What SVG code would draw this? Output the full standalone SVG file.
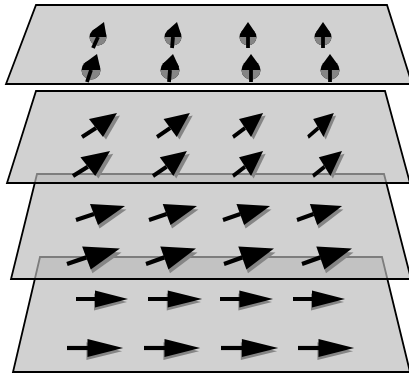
<svg xmlns="http://www.w3.org/2000/svg" xmlns:xlink="http://www.w3.org/1999/xlink" width="409" height="376" viewBox="0 0 409 376">
  <style>
    .plane { fill: #bbbbbb; fill-opacity: 0.67; stroke: #000; stroke-width: 1.8; stroke-linejoin: miter; }
    .sh { fill: #858585; stroke: none; }
    .hd { fill: #000; stroke: none; }
    .st { stroke: #000; stroke-width: 4; fill: none; stroke-linecap: butt; }
    .up circle, .up polygon { fill: #000; }
    .up line { stroke: #000; stroke-width: 3.8; }
  </style>
  <defs>
    <!-- in-plane spin, pointing along x (bottom layer) -->
    <g id="spin-x">
      <polygon class="sh" points="18,-5.5 51,3 18,11.5"/>
      <path class="st" d="M0,0H20"/>
      <polygon class="hd" points="19,-8.5 52,0 19,8.5"/>
    </g>
    <!-- spin tilted slightly up out of the plane -->
    <g id="spin-t1">
      <polygon class="sh" points="15.5,-12.5 50.5,-10.5 23.5,8.5"/>
      <path class="st" d="M0,0L18,-6"/>
      <polygon class="hd" points="14,-16 49,-14 22,5"/>
    </g>
    <!-- spin tilted further out of the plane -->
    <g id="spin-t2">
      <polygon class="sh" points="10,-15.5 38,-21.5 24,2.5"/>
      <path class="st" d="M0,0L14,-9"/>
      <polygon class="hd" points="7,-18 35,-24 21,0"/>
    </g>
  </defs>

  <!-- layer 4: spins lying in the plane -->
  <g id="layer-4">
    <polygon class="plane" points="40,257 382,257 410,372 13,372"/>
    <use xlink:href="#spin-x" transform="translate(76,299)"/>
    <use xlink:href="#spin-x" transform="translate(148,299) scale(1.04,1)"/>
    <use xlink:href="#spin-x" transform="translate(220,299) scale(1.02,1)"/>
    <use xlink:href="#spin-x" transform="translate(293,299)"/>
    <use xlink:href="#spin-x" transform="translate(67,348) scale(1.08,1.05)"/>
    <use xlink:href="#spin-x" transform="translate(144,348) scale(1.08,1.05)"/>
    <use xlink:href="#spin-x" transform="translate(221,348) scale(1.1,1.05)"/>
    <use xlink:href="#spin-x" transform="translate(298,348) scale(1.08,1.05)"/>
  </g>

  <!-- layer 3 -->
  <g id="layer-3">
    <polygon class="plane" points="37,174 384,174 411,279 11,279"/>
    <use xlink:href="#spin-t1" transform="translate(76,220)"/>
    <use xlink:href="#spin-t1" transform="translate(149,220) scale(0.98,1)"/>
    <use xlink:href="#spin-t1" transform="translate(223,220) scale(0.96,1)"/>
    <use xlink:href="#spin-t1" transform="translate(297,220) scale(0.92,1)"/>
    <use xlink:href="#spin-t1" transform="translate(67,264) scale(1.08,1.1)"/>
    <use xlink:href="#spin-t1" transform="translate(146,264) scale(1.02,1.1)"/>
    <use xlink:href="#spin-t1" transform="translate(224,264) scale(1.02,1.1)"/>
    <use xlink:href="#spin-t1" transform="translate(302,264) scale(1.02,1.1)"/>
  </g>

  <!-- layer 2 -->
  <g id="layer-2">
    <polygon class="plane" points="36,91 385,91 410,183 7,183"/>
    <use xlink:href="#spin-t2" transform="translate(82,137)"/>
    <use xlink:href="#spin-t2" transform="translate(157,137) scale(0.94,1)"/>
    <use xlink:href="#spin-t2" transform="translate(233,137) scale(0.86,1)"/>
    <use xlink:href="#spin-t2" transform="translate(308,137) scale(0.74,1)"/>
    <use xlink:href="#spin-t2" transform="translate(73,176) scale(1.06,1.04)"/>
    <use xlink:href="#spin-t2" transform="translate(153,176) scale(0.97,1.04)"/>
    <use xlink:href="#spin-t2" transform="translate(233,176) scale(0.86,1.04)"/>
    <use xlink:href="#spin-t2" transform="translate(313,176) scale(0.83,1.04)"/>
  </g>

  <!-- layer 1: spins pointing out of the plane -->
  <g id="layer-1">
    <polygon class="plane" points="36,5 387,5 412,84 6,84"/>
    <g class="up" transform="translate(98,37)">
      <circle r="8.5"/><polygon points="6,-15 8.48,-0.6 -5.74,-6.27"/>
      <path class="sh" d="M-8.5,0A8.5,8.5 0 0 0 8.5,0Z"/><line x1="0" y1="0" x2="-5" y2="11"/>
    </g>
    <g class="up" transform="translate(173,37)">
      <circle r="8.5"/><polygon points="4,-15 8.32,-1.75 -6.35,-5.65"/>
      <path class="sh" d="M-8.5,0A8.5,8.5 0 0 0 8.5,0Z"/><line x1="0" y1="0" x2="-1" y2="11"/>
    </g>
    <g class="up" transform="translate(248,37)">
      <circle r="8.5"/><polygon points="0,-15 7.0,-4.8 -7.0,-4.8"/>
      <path class="sh" d="M-8.5,0A8.5,8.5 0 0 0 8.5,0Z"/><line x1="0" y1="0" x2="0" y2="11"/>
    </g>
    <g class="up" transform="translate(323,37)">
      <circle r="8.5"/><polygon points="0,-15 7.0,-4.8 -7.0,-4.8"/>
      <path class="sh" d="M-8.5,0A8.5,8.5 0 0 0 8.5,0Z"/><line x1="0" y1="0" x2="0" y2="11"/>
    </g>
    <g class="up" transform="translate(91,70)">
      <circle r="9.5"/><polygon points="6,-16 9.4,-1.3 -6.3,-7.1"/>
      <path class="sh" d="M-9.5,0A9.5,9.5 0 0 0 9.5,0Z"/><line x1="0" y1="0" x2="-4" y2="12"/>
    </g>
    <g class="up" transform="translate(170,70)">
      <circle r="9.5"/><polygon points="3,-16 9.0,-3.1 -7.3,-6.1"/>
      <path class="sh" d="M-9.5,0A9.5,9.5 0 0 0 9.5,0Z"/><line x1="0" y1="0" x2="-1" y2="12"/>
    </g>
    <g class="up" transform="translate(251,70)">
      <circle r="9.5"/><polygon points="0,-16 7.7,-5.6 -7.7,-5.6"/>
      <path class="sh" d="M-9.5,0A9.5,9.5 0 0 0 9.5,0Z"/><line x1="0" y1="0" x2="0" y2="12"/>
    </g>
    <g class="up" transform="translate(330,70)">
      <circle r="9.5"/><polygon points="0,-16 7.7,-5.6 -7.7,-5.6"/>
      <path class="sh" d="M-9.5,0A9.5,9.5 0 0 0 9.5,0Z"/><line x1="0" y1="0" x2="0" y2="12"/>
    </g>
  </g>
</svg>
